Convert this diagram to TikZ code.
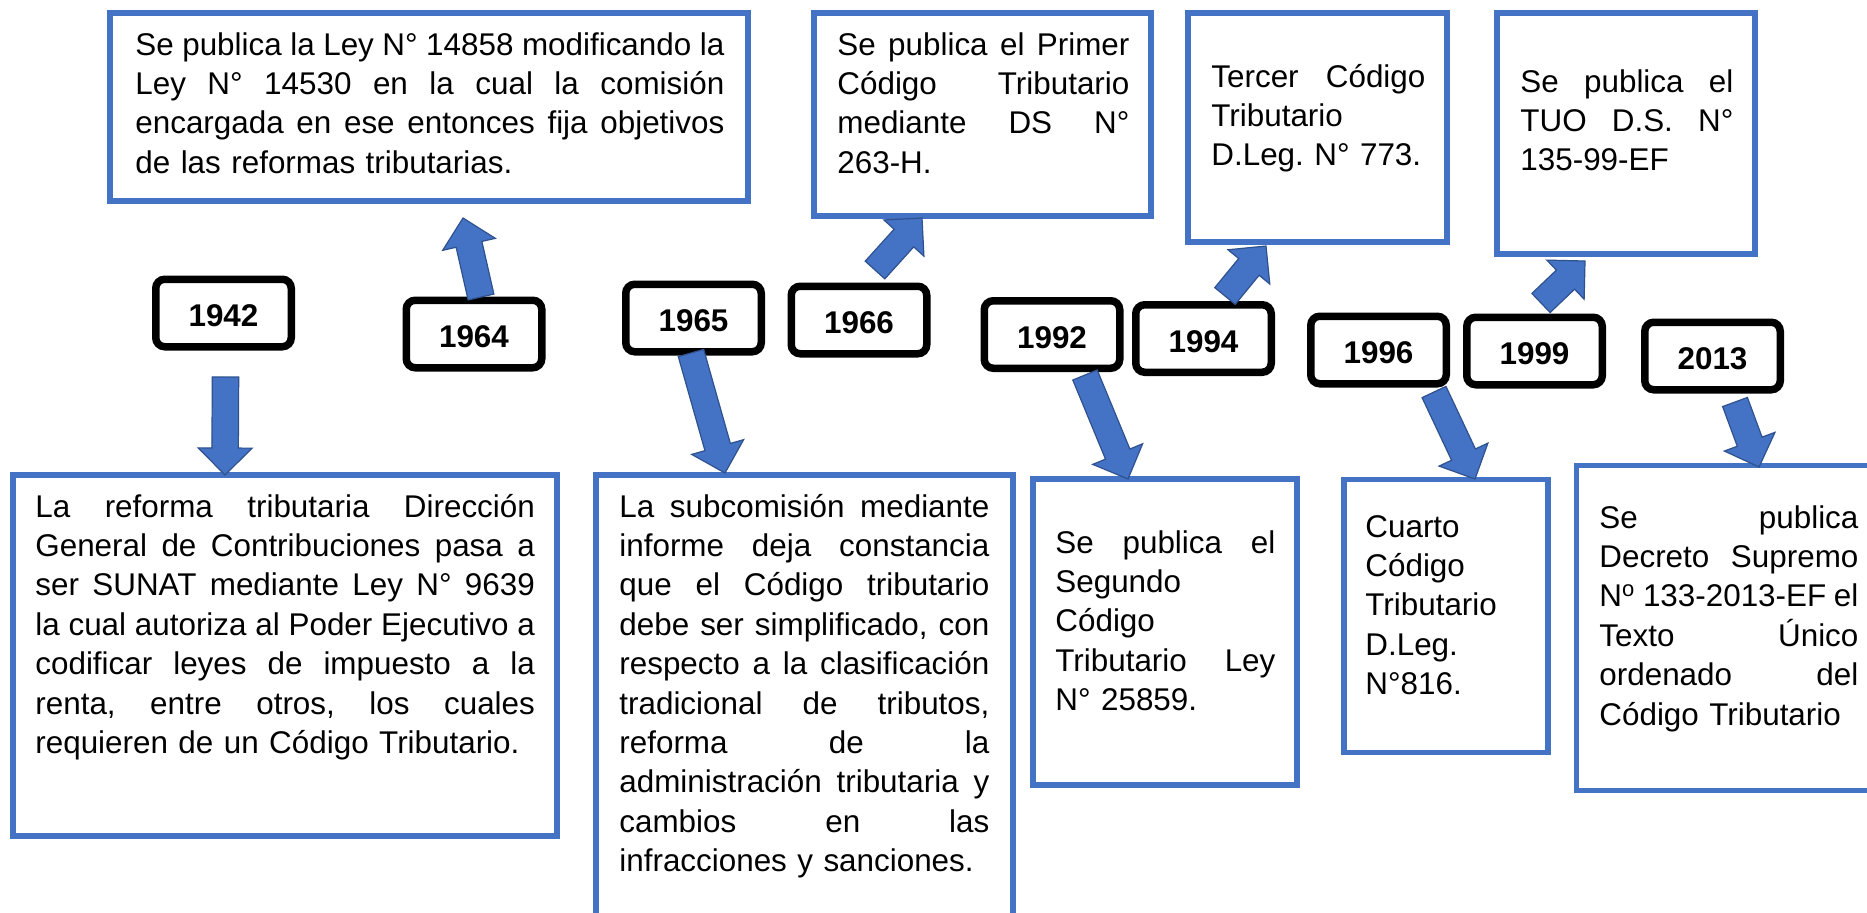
\documentclass[tikz,border=0pt]{standalone}
\usepackage{fontspec}
\setmainfont{Liberation Sans}
\usetikzlibrary{calc,fit}
\definecolor{frameblue}{HTML}{4472C4}
\definecolor{arrowedge}{HTML}{2F528F}
\newcommand\jw{100pt}
\newcommand\jl[1]{\leavevmode\hbox to \jw{\spaceskip=0.278em plus 1fil minus 0.1em\relax #1}}
\newcommand\barrow[2]{%
  \path ($(#2)!13.5pt!(#1)$) coordinate (hb);
  \filldraw[blockarrow] ($(#1)!6.6pt!90:(#2)$) -- ($(hb)!6.6pt!90:(#2)$) -- ($(hb)!13.5pt!90:(#2)$) -- (#2) -- ($(hb)!13.5pt!270:(#2)$) -- ($(hb)!6.6pt!270:(#2)$) -- ($(#1)!6.6pt!270:(#2)$) -- cycle;}
\tikzset{
  tbox/.style={draw=frameblue, line width=2.75pt, inner sep=0pt},
  yearbox/.style={draw=black, line width=3.75pt, rounded corners=4.5pt, minimum width=67.75pt, minimum height=33.75pt, inner sep=0pt, text height=13.7pt, text depth=0pt, font=\fontsize{15.7pt}{19pt}\selectfont\bfseries},
  txt/.style={anchor=base west, inner sep=0pt, align=left, font=\fontsize{15.7pt}{19.7pt}\selectfont\frenchspacing},
  blockarrow/.style={fill=frameblue, draw=arrowedge, line width=0.6pt, line join=miter},
}
\frenchspacing
\begin{document}
\begin{tikzpicture}[x=0.5pt,y=-0.5pt]
\useasboundingbox (0,0) rectangle (1867,912);
\clip (0,0) rectangle (1867,912);
\fill[white] (0,0) rectangle (1867,912);

% frames
\node[tbox, fit={(110,13) (748,201)}] (b1964) {};
\node[tbox, fit={(814,13) (1151,216)}] (b1966) {};
\node[tbox, fit={(1188,13) (1447,242)}] (b1994) {};
\node[tbox, fit={(1497,13) (1755,254)}] (b1999) {};
\node[tbox, fit={(13,475) (557,836)}] (b1942) {};
\node[tbox, fit={(596,475) (1013,940)}] (b1965) {};
\node[tbox, fit={(1033,479) (1297,785)}] (b1992) {};
\node[tbox, fit={(1344,479.5) (1548,752.5)}] (b1996) {};
\node[tbox, fit={(1576.5,465.5) (1890,790.5)}] (b2013) {};

% texts
\node[txt, text width=300pt] (t1964) at (135,55) {\renewcommand\jw{294.5pt}\jl{Se publica la Ley N° 14858 modificando la}\\\jl{Ley N° 14530 en la cual la comisión}\\\jl{encargada en ese entonces fija objetivos}\\de las reformas tributarias.};
\node[txt, text width=150pt] (t1966) at (837,55) {\renewcommand\jw{146pt}\jl{Se publica el Primer}\\\jl{Código Tributario}\\\jl{mediante DS N°}\\263-H.};
\node[txt, text width=112pt] (t1994) at (1211,87) {\renewcommand\jw{107pt}\jl{Tercer Código}\\Tributario\\D.Leg. N° 773.};
\node[txt, text width=110pt] (t1999) at (1520,92) {\renewcommand\jw{106.5pt}\jl{Se publica el}\\\jl{TUO D.S. N°}\\135-99-EF};
\node[txt, text width=255pt] (t1942) at (35,517) {\renewcommand\jw{249.75pt}\jl{La reforma tributaria Dirección}\\\jl{General de Contribuciones pasa a}\\\jl{ser SUNAT mediante Ley N° 9639}\\\jl{la cual autoriza al Poder Ejecutivo a}\\\jl{codificar leyes de impuesto a la}\\\jl{renta, entre otros, los cuales}\\requieren de un Código Tributario.};
\node[txt, text width=190pt] (t1965) at (619,517) {\renewcommand\jw{185pt}\jl{La subcomisión mediante}\\\jl{informe deja constancia}\\\jl{que el Código tributario}\\\jl{debe ser simplificado, con}\\\jl{respecto a la clasificación}\\\jl{tradicional de tributos,}\\\jl{reforma de la}\\\jl{administración tributaria y}\\\jl{cambios en las}\\infracciones y sanciones.};
\node[txt, text width=115pt] (t1992) at (1055,553) {\renewcommand\jw{110pt}\jl{Se publica el}\\Segundo\\Código\\\jl{Tributario Ley}\\N° 25859.};
\node[txt, text width=90pt] (t1996) at (1365,537) {Cuarto\\Código\\Tributario\\D.Leg.\\N°816.};
\node[txt, text width=135pt] (t2013) at (1599,528) {\renewcommand\jw{129.5pt}\jl{Se publica}\\\jl{Decreto Supremo}\\\jl{N\textsuperscript{o} 133-2013-EF el}\\\jl{Texto Único}\\\jl{ordenado del}\\Código Tributario};

% year boxes
\node[yearbox] (y1942) at (223.5,313) {1942};
\node[yearbox] (y1964) at (474,334) {1964};
\node[yearbox] (y1965) at (693.5,318) {1965};
\node[yearbox] (y1966) at (859,320) {1966};
\node[yearbox] (y1992) at (1052,334.5) {1992};
\node[yearbox] (y1994) at (1203.5,338.5) {1994};
\node[yearbox] (y1996) at (1378.5,350) {1996};
\node[yearbox] (y1999) at (1534.5,351) {1999};
\node[yearbox] (y2013) at (1712.5,356) {2013};

% arrow ends
\coordinate (s1942) at (225.5,377); \coordinate (e1942) at (225,475);
\coordinate (s1964) at (481,297);   \coordinate (e1964) at (463,218);
\coordinate (s1965) at (691,353);   \coordinate (e1965) at (725,473);
\coordinate (s1966) at (875,270);   \coordinate (e1966) at (922,218);
\coordinate (s1992) at (1085,375);  \coordinate (e1992) at (1128,479);
\coordinate (s1994) at (1225,296);  \coordinate (e1994) at (1266,246);
\coordinate (s1996) at (1434,392);  \coordinate (e1996) at (1475,479);
\coordinate (s1999) at (1541,303);  \coordinate (e1999) at (1585,261);
\coordinate (s2013) at (1735,402);  \coordinate (e2013) at (1759,467);

\barrow{s1942}{e1942}
\barrow{s1964}{e1964}
\barrow{s1965}{e1965}
\barrow{s1966}{e1966}
\barrow{s1992}{e1992}
\barrow{s1994}{e1994}
\barrow{s1996}{e1996}
\barrow{s1999}{e1999}
\barrow{s2013}{e2013}
\end{tikzpicture}
\end{document}
